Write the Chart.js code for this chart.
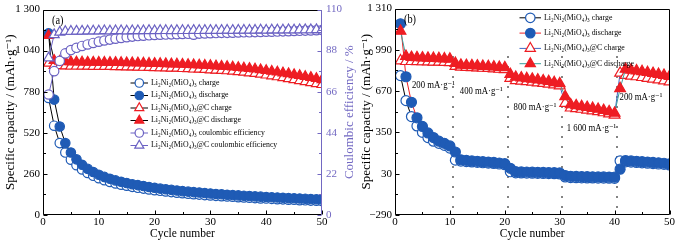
<!DOCTYPE html>
<html><head><meta charset="utf-8">
<script src="https://cdn.jsdelivr.net/npm/chart.js@4/dist/chart.umd.min.js"></script>
<style>
html,body{margin:0;padding:0;background:#fff;}
#wrap{position:relative;width:677px;height:243px;overflow:hidden;}
#wrap canvas{position:absolute;left:0;top:0;}
</style></head><body>
<div id="wrap"><canvas id="ca" width="677" height="243"></canvas><canvas id="cb" width="677" height="243"></canvas></div>
<script>
// ---------- data ----------
const cycles = [1,2,3,4,5,6,7,8,9,10,11,12,13,14,15,16,17,18,19,20,21,22,23,24,25,26,27,28,29,30,31,32,33,34,35,36,37,38,39,40,41,42,43,44,45,46,47,48,49,50];
const cycleTicks = [0,10,20,30,40,50];

// panel (a)
const aChargeCap    = [740,565,455,395,350,315,288,266,248,233,220,209,200,192,185,178,172,167,162,157,153,149,145,141,138,135,132,129,126,124,121,119,117,115,113,111,109,107,105,104,102,100,99,97,96,94,93,91,90,89];
const aDischargeCap = [1150,730,560,455,395,352,318,292,272,255,241,229,219,210,202,195,189,183,177,172,167,163,159,155,151,148,145,142,139,136,133,131,128,126,124,122,120,118,116,114,112,111,109,107,106,104,103,101,100,98];
const aCChargeCap    = [960,946,944,943,942,942,941,941,940,940,939,939,938,938,937,936,935,934,933,932,931,930,929,928,926,925,923,922,920,918,916,914,912,909,906,903,899,895,890,885,880,874,868,862,856,850,843,837,831,825];
const aCDischargeCap = [1135,978,972,970,969,968,968,967,967,966,966,965,965,964,963,963,962,961,960,959,958,957,956,955,953,952,950,949,947,945,943,941,939,936,933,930,927,923,919,914,909,904,899,894,888,882,876,870,863,856];
const aCE  = [64.5,77,82.5,86.5,88.3,89.5,90.5,91.3,92.1,92.8,93.4,93.9,94.4,94.8,95.2,95.5,95.8,96.0,96.2,96.4,96.5,96.6,96.7,96.8,96.9,97.0,96.5,97.1,97.2,97.3,97.4,97.5,97.5,97.6,97.7,97.8,97.8,97.9,98.0,98.1,98.1,98.2,98.3,98.4,98.5,98.6,98.7,98.8,98.9,99.0];
const aCCE = [84,96.5,97.8,98.2,98.3,98.4,98.4,98.5,98.5,98.5,98.6,98.5,98.6,98.6,98.5,98.6,98.6,98.6,98.7,98.6,98.7,98.7,98.6,98.7,98.7,98.7,98.8,98.7,98.8,98.8,98.8,98.8,98.9,98.8,98.9,98.9,98.9,98.9,99.0,98.9,99.0,99.0,99.0,99.1,99.0,99.1,99.1,99.1,99.2,99.2];
const aCapTicks = [0,260,520,780,1040,1300];
const aCETicks  = [0,22,44,66,88,110];
const aNames = ['Li₂Ni₂(MiO₄)₃ charge','Li₂Ni₂(MiO₄)₃ discharge','Li₂Ni₂(MiO₄)₃@C charge','Li₂Ni₂(MiO₄)₃@C discharge','Li₂Ni₂(MiO₄)₃ coulombic efficiency','Li₂Ni₂(MiO₄)₃@C coulombic efficiency'];

// panel (b)
const bChargeCap    = [790,596,473,400,350,310,282,265,250,228,135,128,124,121,118,115,112,109,105,100,45,37,36,35,34,33,32,31,30,28,5,0,-1,-2,-3,-3,-4,-4,-5,-6,130,122,120,117,114,111,108,105,102,98];
const bDischargeCap = [1192,781,583,463,396,346,310,282,265,245,198,138,133,129,126,123,120,117,113,108,72,46,44,43,42,41,40,39,38,36,16,10,9,8,7,6,5,5,4,3,65,132,129,126,123,120,117,114,111,107];
const bCChargeCap    = [905,900,900,899,898,897,896,895,894,892,862,856,854,852,850,848,846,843,840,837,770,752,748,744,740,735,730,725,719,712,575,540,535,530,524,518,511,503,494,484,810,792,787,782,776,770,764,757,750,742];
const bCDischargeCap = [1135,940,932,930,928,926,925,923,921,919,886,872,870,868,866,863,861,858,855,852,800,778,773,768,763,757,751,745,737,728,628,565,558,551,544,537,530,521,511,500,690,840,834,828,822,815,808,801,793,784];
const bCapTicks = [-290,30,350,670,990,1310];
const bNames = ['Li₂Ni₂(MiO₄)₃ charge','Li₂Ni₂(MiO₄)₃ discharge','Li₂Ni₂(MiO₄)₃@C charge','Li₂Ni₂(MiO₄)₃@C discharge'];
const rateBoundaries = [10.5,20.5,30.5,40.5];
const rateLabels = ['200 mA·g⁻¹','400 mA·g⁻¹','800 mA·g⁻¹','1 600 mA·g⁻¹','200 mA·g⁻¹'];

// ---------- styling / helpers ----------
const FONT = "'Liberation Serif','Times New Roman','DejaVu Serif',serif";
const BLUE='#1f5bb5', RED='#ee1d23', PURPLE='#6b62c3', PURPLE_TXT='#7268c2', TEAL='#3b9f9c', BLUE_LINE='#4068c4';
const rateLabelAnchors = [[3.1,717],[11.8,668],[21.6,545],[31.3,378],[40.9,622]];

function pts(ys){ return cycles.map((c,i)=>({x:c,y:ys[i]})); }
function fmt(v){ const a=Math.abs(v); let s=String(a); if(a>=1000) s=s.replace(/(\d)(?=(\d{3})+$)/g,'$1 '); return (v<0?'−':'')+s; }
function setTicks(arr){ return s=>{ s.ticks = arr.map(v=>({value:v})); }; }
function drawText(ctx,str,x,y,size,color,align,sx,rot){
  ctx.save(); ctx.translate(x,y); if(rot) ctx.rotate(rot); ctx.scale(sx||1,1);
  ctx.font=size+'px '+FONT; ctx.fillStyle=color; ctx.textAlign=align||'left'; ctx.textBaseline='middle';
  ctx.fillText(str,0,0); ctx.restore();
}
function ser(label,ys,o){
  return Object.assign({label,data:pts(ys),showLine:true,fill:false,tension:0,borderWidth:1,pointBorderWidth:1.2,pointHoverRadius:0},o);
}

const framePlugin = {
  id:'frame',
  afterDatasetsDraw(chart,args,o){
    const {ctx,chartArea:a,scales}=chart;
    const L=Math.round(a.left)+0.5, R=Math.round(a.right)-0.5, T=Math.round(a.top)+0.5, B=Math.round(a.bottom)-0.5;
    ctx.save(); ctx.lineWidth=1; ctx.strokeStyle='#000';
    ctx.beginPath(); ctx.moveTo(R,T); ctx.lineTo(L,T); ctx.lineTo(L,B); ctx.lineTo(R,B); ctx.stroke();
    ctx.strokeStyle=o.rightColor||'#000'; ctx.beginPath(); ctx.moveTo(R,T); ctx.lineTo(R,B); ctx.stroke();
    const tick=(scale,side,color)=>{
      const vals=scale.ticks.map(t=>t.value); const list=[];
      vals.forEach((v,i)=>{ list.push([v,4]); if(i<vals.length-1) list.push([(v+vals[i+1])/2,2.5]); });
      ctx.strokeStyle=color; ctx.beginPath();
      list.forEach(([v,len])=>{
        const p=Math.round(scale.getPixelForValue(v))+0.5;
        if(side==='left'){ctx.moveTo(L,p);ctx.lineTo(L+len,p);}
        else if(side==='right'){ctx.moveTo(R,p);ctx.lineTo(R-len,p);}
        else {ctx.moveTo(p,B);ctx.lineTo(p,B-len);}
      });
      ctx.stroke();
    };
    tick(scales.x,'bottom','#000');
    tick(scales.y,'left','#000');
    if(scales.y2) tick(scales.y2,'right',o.rightColor);
    if(o.rightTitle) drawText(ctx,o.rightTitle,o.rightTitleX,(a.top+a.bottom)/2,13,o.rightColor,'center',1,-Math.PI/2);
    drawText(ctx,o.tag,a.left+9,a.top+11,11.5,'#000','left',0.9);
    ctx.restore();
  }
};

const legendPlugin = {
  id:'customLegend',
  afterDraw(chart,args,o){
    const ctx=chart.ctx;
    chart.data.datasets.forEach((d,i)=>{
      const y=o.y0+i*o.dy;
      ctx.save(); ctx.strokeStyle=d.borderColor; ctx.lineWidth=1;
      ctx.beginPath(); ctx.moveTo(o.x0,y+0.5); ctx.lineTo(o.x1,y+0.5); ctx.stroke(); ctx.restore();
      ctx.save(); ctx.strokeStyle=d.pointBorderColor; ctx.fillStyle=d.pointBackgroundColor; ctx.lineWidth=d.pointBorderWidth;
      Chart.helpers.drawPoint(ctx,{pointStyle:d.pointStyle,radius:d.pointRadius*o.k,borderWidth:d.pointBorderWidth,rotation:0},o.mx,y+0.5);
      ctx.restore();
      drawText(ctx,d.label,o.tx,y,o.size,'#000','left',0.87);
    });
  }
};

const ratePlugin = {
  id:'rates',
  beforeDatasetsDraw(chart){
    const {ctx,scales:{x,y}}=chart;
    ctx.save(); ctx.strokeStyle='#333'; ctx.lineWidth=1.6; ctx.setLineDash([1.6,8.4]);
    rateBoundaries.forEach(c=>{
      const px=Math.round(x.getPixelForValue(c));
      ctx.beginPath(); ctx.moveTo(px,y.getPixelForValue(940)); ctx.lineTo(px,y.getPixelForValue(-290)); ctx.stroke();
    });
    ctx.restore();
  },
  afterDatasetsDraw(chart){
    const {ctx,scales:{x,y}}=chart;
    rateLabels.forEach((t,i)=>{
      const [cx,cy]=rateLabelAnchors[i];
      drawText(ctx,t,x.getPixelForValue(cx),y.getPixelForValue(cy),10,'#000','left',0.87);
    });
  }
};

const tickFont={family:FONT,size:11,lineHeight:1};
const xTitleFont={family:FONT,size:11.5};
const yTitleFont={family:FONT,size:13};
const noGrid={display:false,drawTicks:false};
function xScale(){
  return {type:'linear',min:0,max:50,afterBuildTicks:setTicks(cycleTicks),
    grid:noGrid,border:{display:false},
    ticks:{font:tickFont,color:'#000',padding:2,maxRotation:0,autoSkip:false},
    title:{display:true,text:'Cycle number',font:xTitleFont,color:'#000',padding:{top:0,bottom:2}},
    afterFit:s=>{s.height=28;}};
}
const common = {animation:false,responsive:false,events:[],devicePixelRatio:1};

// ---------- panel (a) ----------
new Chart(document.getElementById('ca'),{
  type:'line',
  data:{datasets:[
    ser(aNames[0],aChargeCap,{yAxisID:'y',borderColor:'#000',pointStyle:'circle',pointRadius:4.7,pointBorderColor:BLUE,pointBackgroundColor:'#fff',order:6}),
    ser(aNames[1],aDischargeCap,{yAxisID:'y',borderColor:'#000',pointStyle:'circle',pointRadius:4.7,pointBorderColor:BLUE,pointBackgroundColor:BLUE,order:5}),
    ser(aNames[2],aCChargeCap,{yAxisID:'y',borderColor:'#000',pointStyle:'triangle',pointRadius:5.8,pointBorderColor:RED,pointBackgroundColor:'#fff',order:4}),
    ser(aNames[3],aCDischargeCap,{yAxisID:'y',borderColor:'#000',pointStyle:'triangle',pointRadius:5.8,pointBorderColor:RED,pointBackgroundColor:RED,order:3}),
    ser(aNames[4],aCE,{yAxisID:'y2',borderColor:PURPLE,pointStyle:'circle',pointRadius:4.7,pointBorderColor:PURPLE,pointBackgroundColor:'#fff',order:2}),
    ser(aNames[5],aCCE,{yAxisID:'y2',borderColor:PURPLE,pointStyle:'triangle',pointRadius:5.8,pointBorderColor:PURPLE,pointBackgroundColor:'#fff',order:1})
  ]},
  options:Object.assign({},common,{
    layout:{padding:{left:0,right:320,top:7,bottom:0}},
    plugins:{legend:{display:false},tooltip:{enabled:false},
      frame:{rightColor:PURPLE_TXT,rightTitle:'Coulombic efficiency / %',rightTitleX:350,tag:'(a)'},
      customLegend:{x0:130.5,x1:148,mx:139.3,tx:151,y0:82.5,dy:12.5,size:9,k:0.9}},
    scales:{
      x:xScale(),
      y:{position:'left',min:0,max:1300,afterBuildTicks:setTicks(aCapTicks),
        grid:noGrid,border:{display:false},
        ticks:{font:tickFont,color:'#000',padding:3,callback:v=>fmt(v)},
        title:{display:true,text:'Specific capacity / (mAh·g⁻¹)',font:yTitleFont,color:'#000',padding:{top:3,bottom:0}},
        afterFit:s=>{s.width=43;}},
      y2:{position:'right',min:0,max:110,afterBuildTicks:setTicks(aCETicks),
        grid:noGrid,border:{display:false},
        ticks:{font:tickFont,color:PURPLE_TXT,padding:4,callback:v=>fmt(v)},
        afterFit:s=>{s.width=35;}}
    }
  }),
  plugins:[framePlugin,legendPlugin]
});

// ---------- panel (b) ----------
new Chart(document.getElementById('cb'),{
  type:'line',
  data:{datasets:[
    ser(bNames[0],bChargeCap,{borderColor:'#000',pointStyle:'circle',pointRadius:5,pointBorderColor:BLUE,pointBackgroundColor:'#fff',order:4}),
    ser(bNames[1],bDischargeCap,{borderColor:RED,pointStyle:'circle',pointRadius:5,pointBorderColor:BLUE,pointBackgroundColor:BLUE,order:3}),
    ser(bNames[2],bCChargeCap,{borderColor:BLUE_LINE,pointStyle:'triangle',pointRadius:6.2,pointBorderColor:RED,pointBackgroundColor:'#fff',order:2}),
    ser(bNames[3],bCDischargeCap,{borderColor:TEAL,pointStyle:'triangle',pointRadius:6.2,pointBorderColor:RED,pointBackgroundColor:RED,order:1})
  ]},
  options:Object.assign({},common,{
    layout:{padding:{left:355,right:7,top:7,bottom:0}},
    plugins:{legend:{display:false},tooltip:{enabled:false},
      frame:{rightColor:'#000',tag:'(b)'},
      customLegend:{x0:519.5,x1:541,mx:530.3,tx:544,y0:17.3,dy:15.3,size:9,k:0.95}},
    scales:{
      x:xScale(),
      y:{position:'left',min:-290,max:1310,afterBuildTicks:setTicks(bCapTicks),
        grid:noGrid,border:{display:false},
        ticks:{font:tickFont,color:'#000',padding:3,callback:v=>fmt(v)},
        title:{display:true,text:'Specific capacity / (mAh·g⁻¹)',font:yTitleFont,color:'#000',padding:{top:4,bottom:0}},
        afterFit:s=>{s.width=40;}}
    }
  }),
  plugins:[framePlugin,legendPlugin,ratePlugin]
});
</script>
</body></html>
